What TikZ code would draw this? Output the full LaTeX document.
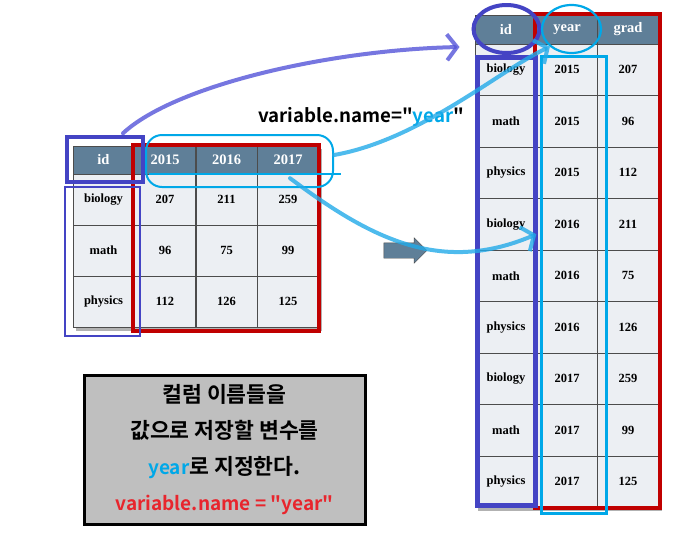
\documentclass[tikz,border=0pt]{standalone}
\usepackage{fontspec}
\setmainfont{Liberation Serif}
\newfontfamily\krfont{Noto Sans CJK KR Bold}
\usetikzlibrary{arrows.meta,shapes.geometric,shapes.arrows}
\definecolor{hdrblue}{HTML}{5F7F98}
\definecolor{cellbg}{HTML}{ECEFF3}
\definecolor{dkblue}{HTML}{4444C4}
\definecolor{boxred}{HTML}{C00000}
\definecolor{skyblue}{HTML}{00A8E8}
\definecolor{penblue}{HTML}{5454D8}
\definecolor{penpale}{HTML}{22AAE8}
\definecolor{notered}{HTML}{E8252D}
\newcommand{\tabfont}{\bfseries\fontsize{12.5}{15}\selectfont}
\newcommand{\hdrfont}{\bfseries\fontsize{14.5}{16}\selectfont}
\newcommand{\latin}[1]{{\fontsize{19}{20}\selectfont #1}}

\begin{document}
\begin{tikzpicture}[x=1pt,y=-1pt]
    \tikzset{cell/.style = {draw=black!70, fill=cellbg, minimum width=61pt, minimum height=51pt, inner sep=0pt, font=\tabfont}}
    \tikzset{hcell/.style = {cell, fill=hdrblue, text=white, minimum height=28pt, font=\hdrfont}}
    \tikzset{rcell/.style = {cell, minimum height=51.5pt}}
    \tikzset{hlbox/.style = {draw, minimum width=#1, inner sep=0pt}}
    \tikzset{penline/.style = {line width=4pt, line cap=round, opacity=0.8, -{Straight Barb[length=10pt, width=26pt]}}}
    \useasboundingbox (0,0) rectangle (680,539);

    % shadows
    \fill[black!30] (76,149) rectangle (322,331);
    \fill[black!30] (478,18) rectangle (662,511);

    % left table
    \node[hcell] (lid) at (103.5,160) {id};
    \node[hcell] (l15) at (165,160) {2015};
    \node[hcell] (l16) at (226.5,160) {2016};
    \node[hcell] (l17) at (288,160) {2017};
    \node[cell] (la1) at (103.5,199.5) {biology};
    \node[cell] (lb1) at (165,199.5) {207};
    \node[cell] (lc1) at (226.5,199.5) {211};
    \node[cell] (ld1) at (288,199.5) {259};
    \node[cell] (la2) at (103.5,250.5) {math};
    \node[cell] (lb2) at (165,250.5) {96};
    \node[cell] (lc2) at (226.5,250.5) {75};
    \node[cell] (ld2) at (288,250.5) {99};
    \node[cell] (la3) at (103.5,301.5) {physics};
    \node[cell] (lb3) at (165,301.5) {112};
    \node[cell] (lc3) at (226.5,301.5) {126};
    \node[cell] (ld3) at (288,301.5) {125};

    % right table
    \node[hcell, minimum height=29pt] (rid) at (506,29.5) {id};
    \node[hcell, minimum height=29pt] (ryear) at (567,29.5) {year};
    \node[hcell, minimum height=29pt] (rgrad) at (628,29.5) {grad};
    \node[rcell] (ri1) at (506,69.75) {biology};
    \node[rcell] (ry1) at (567,69.75) {2015};
    \node[rcell] (rg1) at (628,69.75) {207};
    \node[rcell] (ri2) at (506,121.25) {math};
    \node[rcell] (ry2) at (567,121.25) {2015};
    \node[rcell] (rg2) at (628,121.25) {96};
    \node[rcell] (ri3) at (506,172.75) {physics};
    \node[rcell] (ry3) at (567,172.75) {2015};
    \node[rcell] (rg3) at (628,172.75) {112};
    \node[rcell] (ri4) at (506,224.25) {biology};
    \node[rcell] (ry4) at (567,224.25) {2016};
    \node[rcell] (rg4) at (628,224.25) {211};
    \node[rcell] (ri5) at (506,275.75) {math};
    \node[rcell] (ry5) at (567,275.75) {2016};
    \node[rcell] (rg5) at (628,275.75) {75};
    \node[rcell] (ri6) at (506,327.25) {physics};
    \node[rcell] (ry6) at (567,327.25) {2016};
    \node[rcell] (rg6) at (628,327.25) {126};
    \node[rcell] (ri7) at (506,378.75) {biology};
    \node[rcell] (ry7) at (567,378.75) {2017};
    \node[rcell] (rg7) at (628,378.75) {259};
    \node[rcell] (ri8) at (506,430.25) {math};
    \node[rcell] (ry8) at (567,430.25) {2017};
    \node[rcell] (rg8) at (628,430.25) {99};
    \node[rcell] (ri9) at (506,481.75) {physics};
    \node[rcell] (ry9) at (567,481.75) {2017};
    \node[rcell] (rg9) at (628,481.75) {125};

    % highlight boxes
    \node[hlbox=186pt, draw=boxred, line width=4pt, minimum height=186pt] (redl) at (226,238) {};
    \node[hlbox=76pt, draw=dkblue, line width=3.5pt, minimum height=45pt] (idhl) at (105,159.5) {};
    \node[hlbox=75pt, draw=dkblue, line width=2.5pt, minimum height=149pt] (idcol) at (102.5,261.5) {};
    \node[hlbox=187pt, draw=skyblue, line width=2pt, minimum height=52pt, rounded corners=16pt] (yrhl) at (239.5,161) {};
    \draw[skyblue, line width=2pt] ([xshift=4pt]yrhl.west |- l15.south) -- ([xshift=7pt]yrhl.east |- l15.south);

    \node[hlbox=125pt, draw=boxred, line width=4pt, minimum height=494pt] (redr) at (597.5,261) {};
    \node[hlbox=58pt, draw=dkblue, line width=5pt, minimum height=448pt] (ridcol) at (506,281) {};
    \node[hlbox=65pt, draw=skyblue, line width=3pt, minimum height=457pt] (ryrcol) at (573.5,284.5) {};
    \node[ellipse, hlbox=66pt, draw=dkblue, line width=4pt, minimum height=48pt] (ridhl) at (506.5,29) {};
    \node[ellipse, hlbox=59pt, draw=skyblue, line width=2.2pt, minimum height=48pt] (ryrhl) at (571.5,29) {};

    % label and gray arrow
    \node[font=\krfont\fontsize{18.7}{20}\selectfont, inner sep=0pt] (vlabel) at (361,117) {variable.name="\textcolor{skyblue}{year}"};
    \node[single arrow, fill=hdrblue, draw=black!70, minimum height=43pt, minimum width=25pt, single arrow head extend=5pt, inner xsep=0pt, inner ysep=7.5pt] (garrow) at (401.5,250.5) {};

    % pen arrows
    \draw[penline, penblue] ([xshift=18pt,yshift=2pt]idhl.north) .. controls (175,85) and (330,50) .. ([xshift=-12pt,yshift=-18pt]ridhl.west);
    \draw[penline, penpale] ([yshift=6pt]yrhl.east) .. controls (420,140) and (500,70) .. (ryrhl.south west);
    \draw[penline, penpale] ([xshift=2pt,yshift=-4pt]l17.south) .. controls (370,238) and (440,275) .. ([yshift=-10pt]ry4.west);

    % note box
    \node[draw=black, line width=3pt, fill=black!25, minimum width=281pt, minimum height=149pt, align=center,
          font=\krfont\fontsize{21.6}{36}\selectfont] (note) at (224.5,449.5)
          {컬럼 이름들을\\값으로 저장할 변수를\\\textcolor{skyblue}{\latin{year}}로 지정한다.\\\textcolor{notered}{\latin{variable.name = "year"}}};
\end{tikzpicture}
\end{document}
